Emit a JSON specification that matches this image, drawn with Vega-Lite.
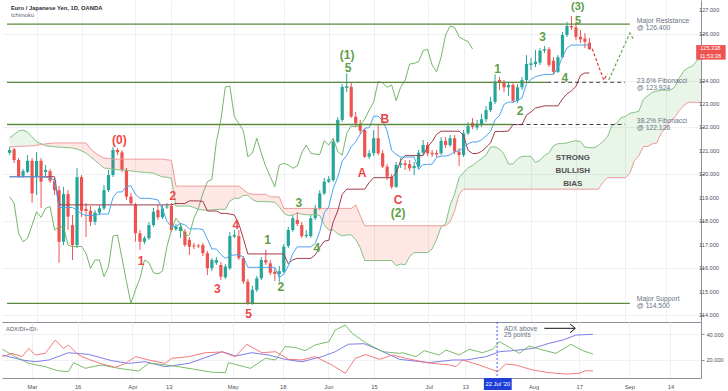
{
"$schema":"https://vega.github.io/schema/vega-lite/v6.json",
"padding":0,"background":"#ffffff","spacing":0,"bounds":"flush",
"config":{"view":{"stroke":null},"font":"Liberation Sans","axis":{"gridColor":"#eef0f4","domainColor":"#8c8f99","tickColor":"#8c8f99","labelColor":"#50535e","labelFont":"Liberation Sans","labelOverlap":false,"labelFlush":false}},
"datasets":{
"c":[
{"i":-6,"o":120.92,"h":121.17,"l":120.82,"c":121.04},{"i":-5,"o":121.07,"h":121.12,"l":120.48,"c":120.61},{"i":-4,"o":120.61,"h":120.70,"l":119.85,"c":119.93},{"i":-3,"o":119.94,"h":120.23,"l":119.85,"c":120.14},{"i":-2,"o":120.11,"h":120.82,"l":120.06,"c":120.58},{"i":-1,"o":120.58,"h":120.70,"l":118.79,"c":119.19},{"i":0,"o":119.90,"h":120.95,"l":119.12,"c":120.57},{"i":1,"o":120.58,"h":120.70,"l":118.57,"c":119.69},{"i":2,"o":120.10,"h":120.40,"l":119.93,"c":120.19},{"i":3,"o":120.14,"h":120.23,"l":119.63,"c":119.73},{"i":4,"o":119.73,"h":119.85,"l":119.12,"c":119.33},{"i":5,"o":119.33,"h":119.50,"l":116.23,"c":117.13},{"i":6,"o":117.13,"h":119.47,"l":116.99,"c":119.16},{"i":7,"o":119.16,"h":119.33,"l":117.63,"c":118.20},{"i":8,"o":117.84,"h":118.27,"l":116.35,"c":116.99},{"i":9,"o":116.99,"h":120.26,"l":116.86,"c":119.88},{"i":10,"o":119.88,"h":119.97,"l":118.18,"c":118.45},{"i":11,"o":118.53,"h":118.78,"l":117.33,"c":118.44},{"i":12,"o":118.45,"h":118.65,"l":117.80,"c":117.98},{"i":13,"o":117.98,"h":118.48,"l":117.84,"c":118.37},{"i":14,"o":118.37,"h":118.70,"l":118.27,"c":118.55},{"i":15,"o":118.55,"h":119.55,"l":118.48,"c":119.33},{"i":16,"o":119.33,"h":120.19,"l":119.25,"c":119.97},{"i":17,"o":119.97,"h":121.17,"l":119.89,"c":121.04},{"i":18,"o":121.04,"h":121.12,"l":120.82,"c":120.94},{"i":19,"o":120.94,"h":121.04,"l":120.10,"c":120.19},{"i":20,"o":120.19,"h":120.27,"l":118.91,"c":119.05},{"i":21,"o":119.05,"h":119.21,"l":118.70,"c":118.77},{"i":22,"o":118.70,"h":118.78,"l":117.13,"c":117.49},{"i":23,"o":117.49,"h":117.63,"l":116.78,"c":117.13},{"i":24,"o":117.13,"h":117.37,"l":117.03,"c":117.28},{"i":25,"o":117.28,"h":117.97,"l":117.21,"c":117.84},{"i":26,"o":117.84,"h":118.57,"l":117.76,"c":118.41},{"i":27,"o":118.48,"h":118.70,"l":118.06,"c":118.17},{"i":28,"o":118.17,"h":118.70,"l":118.10,"c":118.55},{"i":29,"o":118.59,"h":118.78,"l":118.53,"c":118.63},{"i":30,"o":118.65,"h":118.78,"l":117.55,"c":117.63},{"i":31,"o":117.66,"h":117.89,"l":117.59,"c":117.77},{"i":32,"o":117.59,"h":117.93,"l":117.29,"c":117.76},{"i":33,"o":117.56,"h":117.67,"l":116.91,"c":116.99},{"i":34,"o":117.21,"h":117.33,"l":116.57,"c":116.92},{"i":35,"o":116.97,"h":117.08,"l":116.82,"c":116.93},{"i":36,"o":116.97,"h":117.03,"l":116.86,"c":116.93},{"i":37,"o":116.99,"h":117.08,"l":116.52,"c":116.64},{"i":38,"o":116.64,"h":116.74,"l":115.71,"c":116.00},{"i":39,"o":116.00,"h":116.44,"l":115.88,"c":116.35},{"i":40,"o":116.23,"h":116.48,"l":116.14,"c":116.35},{"i":41,"o":116.14,"h":116.27,"l":115.50,"c":115.64},{"i":42,"o":115.62,"h":116.18,"l":115.54,"c":116.07},{"i":43,"o":116.00,"h":117.55,"l":115.93,"c":117.37},{"i":44,"o":117.35,"h":117.63,"l":117.29,"c":117.42},{"i":45,"o":117.37,"h":117.63,"l":116.35,"c":116.43},{"i":46,"o":116.43,"h":116.52,"l":115.33,"c":115.43},{"i":47,"o":115.43,"h":115.54,"l":114.44,"c":114.51},{"i":48,"o":114.51,"h":115.25,"l":114.44,"c":115.08},{"i":49,"o":115.08,"h":115.67,"l":114.99,"c":115.57},{"i":50,"o":115.57,"h":116.48,"l":115.50,"c":116.35},{"i":51,"o":116.35,"h":116.78,"l":116.14,"c":116.24},{"i":52,"o":116.21,"h":116.35,"l":115.71,"c":115.81},{"i":53,"o":115.85,"h":116.01,"l":115.46,"c":115.76},{"i":54,"o":115.76,"h":116.10,"l":115.42,"c":115.88},{"i":55,"o":115.85,"h":117.03,"l":115.80,"c":116.92},{"i":56,"o":116.95,"h":117.76,"l":116.86,"c":117.63},{"i":57,"o":117.63,"h":118.27,"l":117.55,"c":118.13},{"i":58,"o":118.06,"h":118.40,"l":117.80,"c":117.89},{"i":59,"o":117.84,"h":117.97,"l":117.29,"c":117.37},{"i":60,"o":117.37,"h":117.63,"l":117.29,"c":117.42},{"i":61,"o":117.37,"h":118.27,"l":117.29,"c":118.13},{"i":62,"o":118.13,"h":118.70,"l":118.06,"c":118.55},{"i":63,"o":118.55,"h":119.33,"l":118.48,"c":119.19},{"i":64,"o":119.19,"h":119.85,"l":119.12,"c":119.69},{"i":65,"o":119.69,"h":119.93,"l":119.63,"c":119.79},{"i":66,"o":119.76,"h":121.51,"l":119.68,"c":121.39},{"i":67,"o":121.39,"h":122.44,"l":121.34,"c":122.32},{"i":68,"o":122.32,"h":123.85,"l":122.23,"c":123.73},{"i":69,"o":123.69,"h":124.30,"l":123.51,"c":123.76},{"i":70,"o":123.73,"h":123.93,"l":122.40,"c":122.46},{"i":71,"o":122.46,"h":122.66,"l":122.06,"c":122.17},{"i":72,"o":122.15,"h":122.32,"l":121.72,"c":121.86},{"i":73,"o":121.89,"h":121.97,"l":120.70,"c":120.75},{"i":74,"o":120.75,"h":121.04,"l":120.65,"c":120.90},{"i":75,"o":120.90,"h":121.89,"l":120.78,"c":121.54},{"i":76,"o":121.54,"h":122.10,"l":120.82,"c":120.90},{"i":77,"o":120.90,"h":121.04,"l":120.27,"c":120.33},{"i":78,"o":120.33,"h":120.44,"l":119.76,"c":119.90},{"i":79,"o":119.90,"h":120.02,"l":119.38,"c":119.47},{"i":80,"o":119.47,"h":120.53,"l":119.42,"c":120.40},{"i":81,"o":120.40,"h":120.70,"l":120.27,"c":120.47},{"i":82,"o":120.47,"h":120.61,"l":120.19,"c":120.40},{"i":83,"o":120.44,"h":120.61,"l":120.14,"c":120.26},{"i":84,"o":120.27,"h":120.53,"l":119.97,"c":120.36},{"i":85,"o":120.33,"h":121.04,"l":120.23,"c":120.92},{"i":86,"o":120.92,"h":121.46,"l":120.82,"c":121.25},{"i":87,"o":121.25,"h":121.38,"l":120.78,"c":120.90},{"i":88,"o":120.92,"h":121.04,"l":120.74,"c":120.86},{"i":89,"o":120.91,"h":121.04,"l":120.74,"c":120.85},{"i":90,"o":120.90,"h":121.59,"l":120.82,"c":121.43},{"i":91,"o":121.43,"h":121.59,"l":121.12,"c":121.25},{"i":92,"o":121.25,"h":121.68,"l":121.17,"c":121.54},{"i":93,"o":121.54,"h":121.68,"l":120.86,"c":120.97},{"i":94,"o":120.97,"h":121.12,"l":120.36,"c":120.82},{"i":95,"o":120.82,"h":121.89,"l":120.74,"c":121.75},{"i":96,"o":121.75,"h":122.23,"l":121.68,"c":122.06},{"i":97,"o":122.20,"h":122.40,"l":121.93,"c":122.03},{"i":98,"o":122.00,"h":122.32,"l":121.89,"c":122.10},{"i":99,"o":122.10,"h":122.57,"l":122.02,"c":122.35},{"i":100,"o":122.35,"h":122.91,"l":122.23,"c":122.74},{"i":101,"o":122.74,"h":123.30,"l":122.66,"c":123.09},{"i":102,"o":123.09,"h":124.27,"l":123.00,"c":123.95},{"i":103,"o":124.02,"h":124.15,"l":123.59,"c":123.90},{"i":104,"o":123.90,"h":124.02,"l":123.51,"c":123.71},{"i":105,"o":123.71,"h":123.93,"l":123.34,"c":123.81},{"i":106,"o":123.81,"h":123.93,"l":123.04,"c":123.14},{"i":107,"o":123.14,"h":123.85,"l":123.04,"c":123.71},{"i":108,"o":123.71,"h":124.15,"l":123.59,"c":124.02},{"i":109,"o":124.02,"h":125.08,"l":123.93,"c":124.70},{"i":110,"o":124.66,"h":124.96,"l":124.45,"c":124.73},{"i":111,"o":124.70,"h":125.30,"l":124.57,"c":124.80},{"i":112,"o":124.76,"h":125.38,"l":124.66,"c":125.27},{"i":113,"o":125.27,"h":125.47,"l":125.17,"c":125.33},{"i":114,"o":125.33,"h":125.42,"l":124.57,"c":124.66},{"i":115,"o":124.84,"h":125.00,"l":124.27,"c":124.37},{"i":116,"o":124.37,"h":125.08,"l":124.32,"c":124.99},{"i":117,"o":124.99,"h":126.06,"l":124.96,"c":125.94},{"i":118,"o":125.94,"h":126.49,"l":125.85,"c":126.32},{"i":119,"o":126.32,"h":126.75,"l":126.15,"c":126.26},{"i":120,"o":126.26,"h":126.45,"l":125.72,"c":125.86},{"i":121,"o":125.86,"h":126.15,"l":125.59,"c":125.75},{"i":122,"o":125.79,"h":126.02,"l":125.38,"c":125.65},{"i":123,"o":125.61,"h":125.81,"l":125.30,"c":125.34}
],
"ichi":[
{"i":-6,"t":119.9,"k":119.9},{"i":-5,"t":119.9,"k":119.9},{"i":-4,"t":119.9,"k":119.9},{"i":-3,"t":119.9,"k":119.9},{"i":-2,"t":119.9,"k":119.9},{"i":-1,"t":119.9,"k":119.9},{"i":0,"t":119.9,"k":119.9},{"i":1,"t":119.9,"k":119.9},{"i":2,"t":119.87,"k":119.9},{"i":3,"t":119.85,"k":119.9},{"i":4,"t":119.76,"k":119.9},{"i":5,"t":118.59,"k":118.7},{"i":6,"t":118.59,"k":118.7},{"i":7,"t":118.59,"k":118.7},{"i":8,"t":118.59,"k":118.7},{"i":9,"t":118.47,"k":118.7},{"i":10,"t":118.32,"k":118.7},{"i":11,"t":118.25,"k":118.7},{"i":12,"t":118.25,"k":118.7},{"i":13,"t":118.25,"k":118.7},{"i":14,"t":118.31,"k":118.7},{"i":15,"t":118.31,"k":118.7},{"i":16,"t":118.31,"k":118.7},{"i":17,"t":119.02,"k":118.7},{"i":18,"t":119.25,"k":118.7},{"i":19,"t":119.25,"k":118.7},{"i":20,"t":119.49,"k":118.7},{"i":21,"t":119.51,"k":118.7},{"i":22,"t":119.15,"k":118.7},{"i":23,"t":118.98,"k":118.7},{"i":24,"t":118.98,"k":118.7},{"i":25,"t":118.98,"k":118.7},{"i":26,"t":118.95,"k":118.7},{"i":27,"t":118.91,"k":118.7},{"i":28,"t":118.53,"k":118.7},{"i":29,"t":118.0,"k":118.7},{"i":30,"t":117.78,"k":118.7},{"i":31,"t":117.78,"k":118.76},{"i":32,"t":117.91,"k":118.76},{"i":33,"t":117.85,"k":118.76},{"i":34,"t":117.68,"k":118.87},{"i":35,"t":117.68,"k":118.87},{"i":36,"t":117.68,"k":118.87},{"i":37,"t":117.65,"k":118.85},{"i":38,"t":117.25,"k":118.44},{"i":39,"t":116.82,"k":118.44},{"i":40,"t":116.82,"k":118.44},{"i":41,"t":116.59,"k":118.34},{"i":42,"t":116.42,"k":118.34},{"i":43,"t":116.53,"k":118.31},{"i":44,"t":116.57,"k":118.27},{"i":45,"t":116.57,"k":117.89},{"i":46,"t":116.48,"k":117.27},{"i":47,"t":116.04,"k":116.61},{"i":48,"t":116.04,"k":116.61},{"i":49,"t":116.04,"k":116.61},{"i":50,"t":116.04,"k":116.61},{"i":51,"t":116.04,"k":116.61},{"i":52,"t":116.04,"k":116.61},{"i":53,"t":116.04,"k":116.61},{"i":54,"t":115.61,"k":116.61},{"i":55,"t":115.74,"k":116.61},{"i":56,"t":116.1,"k":116.19},{"i":57,"t":116.63,"k":116.36},{"i":58,"t":116.91,"k":116.42},{"i":59,"t":116.91,"k":116.42},{"i":60,"t":116.91,"k":116.42},{"i":61,"t":116.91,"k":116.42},{"i":62,"t":117.06,"k":116.57},{"i":63,"t":117.57,"k":116.89},{"i":64,"t":118.36,"k":117.15},{"i":65,"t":118.61,"k":117.19},{"i":66,"t":119.4,"k":117.98},{"i":67,"t":119.87,"k":118.44},{"i":68,"t":120.57,"k":119.15},{"i":69,"t":120.8,"k":119.37},{"i":70,"t":121.18,"k":119.37},{"i":71,"t":121.39,"k":119.37},{"i":72,"t":121.71,"k":119.37},{"i":73,"t":121.97,"k":119.37},{"i":74,"t":121.99,"k":119.65},{"i":75,"t":122.48,"k":119.86},{"i":76,"t":122.48,"k":119.86},{"i":77,"t":122.29,"k":119.86},{"i":78,"t":121.85,"k":119.86},{"i":79,"t":121.02,"k":119.86},{"i":80,"t":120.85,"k":120.05},{"i":81,"t":120.74,"k":120.58},{"i":82,"t":120.74,"k":120.8},{"i":83,"t":120.74,"k":120.8},{"i":84,"t":120.74,"k":120.8},{"i":85,"t":120.21,"k":120.8},{"i":86,"t":120.42,"k":120.8},{"i":87,"t":120.42,"k":121.18},{"i":88,"t":120.44,"k":121.39},{"i":89,"t":120.72,"k":121.71},{"i":90,"t":120.78,"k":121.84},{"i":91,"t":120.78,"k":121.84},{"i":92,"t":120.83,"k":121.84},{"i":93,"t":120.96,"k":121.84},{"i":94,"t":121.02,"k":121.84},{"i":95,"t":121.13,"k":121.66},{"i":96,"t":121.3,"k":121.02},{"i":97,"t":121.38,"k":120.89},{"i":98,"t":121.38,"k":120.89},{"i":99,"t":121.47,"k":120.98},{"i":100,"t":121.64,"k":121.15},{"i":101,"t":121.83,"k":121.34},{"i":102,"t":122.32,"k":121.83},{"i":103,"t":122.51,"k":121.83},{"i":104,"t":122.98,"k":121.83},{"i":105,"t":123.08,"k":121.85},{"i":106,"t":123.08,"k":122.12},{"i":107,"t":123.15,"k":122.12},{"i":108,"t":123.25,"k":122.12},{"i":109,"t":123.87,"k":122.53},{"i":110,"t":124.04,"k":122.66},{"i":111,"t":124.17,"k":122.83},{"i":112,"t":124.21,"k":122.87},{"i":113,"t":124.26,"k":122.92},{"i":114,"t":124.26,"k":122.92},{"i":115,"t":124.26,"k":122.92},{"i":116,"t":124.53,"k":122.92},{"i":117,"t":125.0,"k":123.21},{"i":118,"t":125.38,"k":123.43},{"i":119,"t":125.51,"k":123.56},{"i":120,"t":125.51,"k":123.75},{"i":121,"t":125.51,"k":124.22},{"i":122,"t":125.51,"k":124.32},{"i":123,"t":125.51,"k":124.32}
],
"cloud":[
{"i":-6,"a":121.55,"b":121.17,"s":"g1"},{"i":-5,"a":121.7,"b":121.18,"s":"g1"},{"i":-4,"a":121.85,"b":121.19,"s":"g1"},{"i":-3,"a":121.89,"b":121.2,"s":"g1"},{"i":-2,"a":121.8,"b":121.21,"s":"g1"},{"i":-1,"a":121.6,"b":121.22,"s":"g1"},{"i":0,"a":121.4,"b":121.24,"s":"g1"},{"i":1,"a":121.3,"b":121.27,"s":"g1"},{"i":1.3,"a":121.28,"b":121.28,"s":"g1"},
{"i":1.3,"a":121.28,"b":121.28,"s":"r"},{"i":2,"a":121.22,"b":121.3,"s":"r"},{"i":3,"a":121.2,"b":121.32,"s":"r"},{"i":4,"a":121.18,"b":121.34,"s":"r"},{"i":5,"a":121.16,"b":121.34,"s":"r"},{"i":6,"a":121.15,"b":121.34,"s":"r"},{"i":7,"a":121.14,"b":121.34,"s":"r"},{"i":8,"a":121.12,"b":121.34,"s":"r"},{"i":9,"a":121.08,"b":121.34,"s":"r"},{"i":10,"a":121.0,"b":121.34,"s":"r"},{"i":11,"a":120.91,"b":121.34,"s":"r"},{"i":12,"a":120.75,"b":121.1,"s":"r"},{"i":13,"a":120.6,"b":120.91,"s":"r"},{"i":14,"a":120.43,"b":120.8,"s":"r"},{"i":15,"a":120.27,"b":120.7,"s":"r"},{"i":16,"a":120.25,"b":120.68,"s":"r"},{"i":17,"a":120.22,"b":120.66,"s":"r"},{"i":18,"a":120.2,"b":120.65,"s":"r"},{"i":19,"a":120.19,"b":120.65,"s":"r"},{"i":20,"a":120.17,"b":120.65,"s":"r"},{"i":21,"a":120.15,"b":120.65,"s":"r"},{"i":22,"a":120.12,"b":120.65,"s":"r"},{"i":23,"a":120.1,"b":120.65,"s":"r"},{"i":24,"a":120.08,"b":120.65,"s":"r"},{"i":25,"a":120.07,"b":120.65,"s":"r"},{"i":26,"a":120.06,"b":120.65,"s":"r"},{"i":27,"a":119.97,"b":120.65,"s":"r"},{"i":28,"a":119.89,"b":120.65,"s":"r"},{"i":29,"a":119.88,"b":120.62,"s":"r"},{"i":30,"a":119.83,"b":120.6,"s":"r"},{"i":31,"a":118.65,"b":119.5,"s":"r"},{"i":32,"a":118.65,"b":119.5,"s":"r"},{"i":33,"a":118.65,"b":119.5,"s":"r"},{"i":34,"a":118.65,"b":119.5,"s":"r"},{"i":35,"a":118.59,"b":119.5,"s":"r"},{"i":36,"a":118.51,"b":119.5,"s":"r"},{"i":37,"a":118.48,"b":119.5,"s":"r"},{"i":38,"a":118.48,"b":119.5,"s":"r"},{"i":39,"a":118.48,"b":119.5,"s":"r"},{"i":40,"a":118.51,"b":119.5,"s":"r"},{"i":41,"a":118.51,"b":119.5,"s":"r"},{"i":42,"a":118.51,"b":119.5,"s":"r"},{"i":43,"a":118.86,"b":119.5,"s":"r"},{"i":44,"a":118.98,"b":119.5,"s":"r"},{"i":45,"a":118.98,"b":119.5,"s":"r"},{"i":46,"a":119.1,"b":119.35,"s":"r"},{"i":47,"a":119.11,"b":119.2,"s":"r"},{"i":48,"a":118.93,"b":119.15,"s":"r"},{"i":49,"a":118.84,"b":119.15,"s":"r"},{"i":50,"a":118.84,"b":119.15,"s":"r"},{"i":51,"a":118.84,"b":119.15,"s":"r"},{"i":52,"a":118.83,"b":119.04,"s":"r"},{"i":53,"a":118.81,"b":119.04,"s":"r"},{"i":54,"a":118.62,"b":119.04,"s":"r"},{"i":55,"a":118.35,"b":118.55,"s":"r"},{"i":56,"a":118.24,"b":118.55,"s":"r"},{"i":57,"a":118.27,"b":118.55,"s":"r"},{"i":58,"a":118.34,"b":118.55,"s":"r"},{"i":59,"a":118.31,"b":118.55,"s":"r"},{"i":60,"a":118.28,"b":118.55,"s":"r"},{"i":61,"a":118.28,"b":118.55,"s":"r"},{"i":62,"a":118.28,"b":118.55,"s":"r"},{"i":63,"a":118.25,"b":118.55,"s":"r"},{"i":64,"a":117.85,"b":118.55,"s":"r"},{"i":65,"a":117.63,"b":118.55,"s":"r"},{"i":66,"a":117.63,"b":118.55,"s":"r"},{"i":67,"a":117.47,"b":118.55,"s":"r"},{"i":68,"a":117.38,"b":118.55,"s":"r"},{"i":69,"a":117.42,"b":118.55,"s":"r"},{"i":70,"a":117.42,"b":118.55,"s":"r"},{"i":71,"a":117.23,"b":118.7,"s":"r"},{"i":72,"a":116.88,"b":118.25,"s":"r"},{"i":73,"a":116.33,"b":117.81,"s":"r"},{"i":74,"a":116.33,"b":117.81,"s":"r"},{"i":75,"a":116.33,"b":117.81,"s":"r"},{"i":76,"a":116.33,"b":117.81,"s":"r"},{"i":77,"a":116.33,"b":117.81,"s":"r"},{"i":78,"a":116.33,"b":117.81,"s":"r"},{"i":79,"a":116.33,"b":117.81,"s":"r"},{"i":80,"a":116.11,"b":117.81,"s":"r"},{"i":81,"a":116.18,"b":117.81,"s":"r"},{"i":82,"a":116.15,"b":117.81,"s":"r"},{"i":83,"a":116.5,"b":117.81,"s":"r"},{"i":84,"a":116.67,"b":117.81,"s":"r"},{"i":85,"a":116.67,"b":117.81,"s":"r"},{"i":86,"a":116.67,"b":117.81,"s":"r"},{"i":87,"a":116.67,"b":117.81,"s":"r"},{"i":88,"a":116.82,"b":117.81,"s":"r"},{"i":89,"a":117.23,"b":117.81,"s":"r"},{"i":90,"a":117.76,"b":117.81,"s":"r"},{"i":90.36,"a":117.81,"b":117.81,"s":"r"},
{"i":90.36,"a":117.81,"b":117.81,"s":"g2"},{"i":91,"a":117.9,"b":117.81,"s":"g2"},{"i":92,"a":118.69,"b":117.98,"s":"g2"},{"i":93,"a":119.16,"b":118.44,"s":"g2"},{"i":94,"a":119.86,"b":119.15,"s":"g2"},{"i":95,"a":120.09,"b":119.37,"s":"g2"},{"i":96,"a":120.28,"b":119.37,"s":"g2"},{"i":97,"a":120.38,"b":119.37,"s":"g2"},{"i":98,"a":120.54,"b":119.37,"s":"g2"},{"i":99,"a":120.67,"b":119.37,"s":"g2"},{"i":100,"a":120.82,"b":119.37,"s":"g2"},{"i":101,"a":121.17,"b":119.37,"s":"g2"},{"i":102,"a":121.17,"b":119.37,"s":"g2"},{"i":103,"a":121.08,"b":119.37,"s":"g2"},{"i":104,"a":120.86,"b":119.37,"s":"g2"},{"i":105,"a":120.44,"b":119.37,"s":"g2"},{"i":106,"a":120.45,"b":119.37,"s":"g2"},{"i":107,"a":120.66,"b":119.37,"s":"g2"},{"i":108,"a":120.77,"b":119.37,"s":"g2"},{"i":109,"a":120.77,"b":119.37,"s":"g2"},{"i":110,"a":120.77,"b":119.37,"s":"g2"},{"i":111,"a":120.51,"b":119.37,"s":"g2"},{"i":112,"a":120.61,"b":119.37,"s":"g2"},{"i":113,"a":120.8,"b":119.37,"s":"g2"},{"i":114,"a":120.92,"b":119.37,"s":"g2"},{"i":115,"a":121.22,"b":119.37,"s":"g2"},{"i":116,"a":121.31,"b":119.37,"s":"g2"},{"i":117,"a":121.31,"b":119.37,"s":"g2"},{"i":118,"a":121.34,"b":119.37,"s":"g2"},{"i":119,"a":121.4,"b":119.37,"s":"g2"},{"i":120,"a":121.43,"b":119.37,"s":"g2"},{"i":121,"a":121.4,"b":119.37,"s":"g2"},{"i":122,"a":121.16,"b":119.37,"s":"g2"},{"i":123,"a":121.14,"b":119.37,"s":"g2"},{"i":124,"a":121.14,"b":119.37,"s":"g2"},{"i":125,"a":121.23,"b":119.37,"s":"g2"},{"i":126,"a":121.4,"b":119.65,"s":"g2"},{"i":127,"a":121.59,"b":119.86,"s":"g2"},{"i":128,"a":122.08,"b":119.86,"s":"g2"},{"i":129,"a":122.17,"b":119.86,"s":"g2"},{"i":130,"a":122.41,"b":119.86,"s":"g2"},{"i":131,"a":122.47,"b":119.86,"s":"g2"},{"i":132,"a":122.6,"b":120.05,"s":"g2"},{"i":133,"a":122.64,"b":120.58,"s":"g2"},{"i":134,"a":122.69,"b":120.8,"s":"g2"},{"i":135,"a":123.2,"b":121.19,"s":"g2"},{"i":136,"a":123.35,"b":121.19,"s":"g2"},{"i":137,"a":123.5,"b":121.3,"s":"g2"},{"i":138,"a":123.54,"b":121.34,"s":"g2"},{"i":139,"a":123.59,"b":121.77,"s":"g2"},{"i":140,"a":123.59,"b":121.98,"s":"g2"},{"i":141,"a":123.59,"b":122.3,"s":"g2"},{"i":142,"a":123.73,"b":122.43,"s":"g2"},{"i":143,"a":124.11,"b":122.72,"s":"g2"},{"i":144,"a":124.41,"b":122.94,"s":"g2"},{"i":145,"a":124.54,"b":123.07,"s":"g2"},{"i":146,"a":124.63,"b":123.07,"s":"g2"},{"i":147,"a":124.87,"b":123.07,"s":"g2"},{"i":148,"a":124.92,"b":123.07,"s":"g2"},{"i":149,"a":124.92,"b":123.07,"s":"g2"}
],
"chik":[
{"i":-6,"v":119.05},{"i":-5,"v":118.77},{"i":-4,"v":117.49},{"i":-3,"v":117.13},{"i":-2,"v":117.28},{"i":-1,"v":117.84},{"i":0,"v":118.41},{"i":1,"v":118.17},{"i":2,"v":118.55},{"i":3,"v":118.63},{"i":4,"v":117.63},{"i":5,"v":117.77},{"i":6,"v":117.76},{"i":7,"v":116.99},{"i":8,"v":116.92},{"i":9,"v":116.93},{"i":10,"v":116.93},{"i":11,"v":116.64},{"i":12,"v":116.0},{"i":13,"v":116.35},{"i":14,"v":116.35},{"i":15,"v":115.64},{"i":16,"v":116.07},{"i":17,"v":117.37},{"i":18,"v":117.42},{"i":19,"v":116.43},{"i":20,"v":115.43},{"i":21,"v":114.51},{"i":22,"v":115.08},{"i":23,"v":115.57},{"i":24,"v":116.35},{"i":25,"v":116.24},{"i":26,"v":115.81},{"i":27,"v":115.76},{"i":28,"v":115.88},{"i":29,"v":116.92},{"i":30,"v":117.63},{"i":31,"v":118.13},{"i":32,"v":117.89},{"i":33,"v":117.37},{"i":34,"v":117.42},{"i":35,"v":118.13},{"i":36,"v":118.55},{"i":37,"v":119.19},{"i":38,"v":119.69},{"i":39,"v":119.79},{"i":40,"v":121.39},{"i":41,"v":122.32},{"i":42,"v":123.73},{"i":43,"v":123.76},{"i":44,"v":122.46},{"i":45,"v":122.17},{"i":46,"v":121.86},{"i":47,"v":120.75},{"i":48,"v":120.9},{"i":49,"v":121.54},{"i":50,"v":120.9},{"i":51,"v":120.33},{"i":52,"v":119.9},{"i":53,"v":119.47},{"i":54,"v":120.4},{"i":55,"v":120.47},{"i":56,"v":120.4},{"i":57,"v":120.26},{"i":58,"v":120.36},{"i":59,"v":120.92},{"i":60,"v":121.25},{"i":61,"v":120.9},{"i":62,"v":120.86},{"i":63,"v":120.85},{"i":64,"v":121.43},{"i":65,"v":121.25},{"i":66,"v":121.54},{"i":67,"v":120.97},{"i":68,"v":120.82},{"i":69,"v":121.75},{"i":70,"v":122.06},{"i":71,"v":122.03},{"i":72,"v":122.1},{"i":73,"v":122.35},{"i":74,"v":122.74},{"i":75,"v":123.09},{"i":76,"v":123.95},{"i":77,"v":123.9},{"i":78,"v":123.71},{"i":79,"v":123.81},{"i":80,"v":123.14},{"i":81,"v":123.71},{"i":82,"v":124.02},{"i":83,"v":124.7},{"i":84,"v":124.73},{"i":85,"v":124.8},{"i":86,"v":125.27},{"i":87,"v":125.33},{"i":88,"v":124.66},{"i":89,"v":124.37},{"i":90,"v":124.99},{"i":91,"v":125.94},{"i":92,"v":126.32},{"i":93,"v":126.26},{"i":94,"v":125.86},{"i":95,"v":125.75},{"i":96,"v":125.65},{"i":97,"v":125.34}
],
"hl":[
{"p":126.4,"i0":-6.58,"i1":132.0,"g":"s"},{"p":123.924,"i0":-6.58,"i1":113.6,"g":"s"},{"p":122.126,"i0":-6.58,"i1":105.9,"g":"s"},{"p":114.5,"i0":-6.58,"i1":132.0,"g":"s"},
{"p":123.924,"i0":113.6,"i1":130.9,"g":"d"},{"p":122.126,"i0":105.9,"i1":130.9,"g":"d"}
],
"pj":[
{"g":"r","k":0,"i":123.6,"p":125.35},{"g":"r","k":1,"i":126.2,"p":124.02},{"g":"r","k":2,"i":127.0,"p":124.28},
{"g":"g","k":0,"i":127.3,"p":124.02},{"g":"g","k":1,"i":132.0,"p":126.02},{"g":"g","k":2,"i":132.9,"p":125.72}
],
"yl":[{"i":147.4,"p":114},{"i":147.4,"p":115},{"i":147.4,"p":116},{"i":147.4,"p":117},{"i":147.4,"p":118},{"i":147.4,"p":119},{"i":147.4,"p":120},{"i":147.4,"p":121},{"i":147.4,"p":122},{"i":147.4,"p":123},{"i":147.4,"p":124},{"i":147.4,"p":126},{"i":147.4,"p":127}],
"txt":[
{"g":"h","i":-5.7,"p":127.11,"t":"Euro / Japanese Yen, 1D, OANDA"},
{"g":"s","i":-5.7,"p":126.77,"t":"Ichimoku"},
{"g":"r","i":18.42,"p":121.46,"t":"(0)"},{"g":"r","i":23.25,"p":116.31,"t":"1"},{"g":"r","i":30.33,"p":119.08,"t":"2"},{"g":"r","i":40.2,"p":115.11,"t":"3"},{"g":"r","i":44.36,"p":117.83,"t":"4"},{"g":"r","i":47.15,"p":114.05,"t":"5"},{"g":"r","i":72.43,"p":120.04,"t":"A"},{"g":"r","i":77.48,"p":122.37,"t":"B"},{"g":"r","i":80.42,"p":118.91,"t":"C"},
{"g":"gr","i":69.08,"p":125.1,"t":"(1)"},{"g":"gr","i":69.3,"p":124.52,"t":"5"},{"g":"gr","i":51.38,"p":117.2,"t":"1"},{"g":"gr","i":54.32,"p":115.19,"t":"2"},{"g":"gr","i":58.33,"p":118.79,"t":"3"},{"g":"gr","i":62.35,"p":116.88,"t":"4"},{"g":"gr","i":80.42,"p":118.37,"t":"(2)"},{"g":"gr","i":102.57,"p":124.49,"t":"1"},{"g":"gr","i":107.6,"p":122.7,"t":"2"},{"g":"gr","i":112.57,"p":125.84,"t":"3"},{"g":"gr","i":117.54,"p":124.09,"t":"4"},{"g":"gr2","i":120.4,"p":127.12,"t":"(3)"},{"g":"gr2","i":120.46,"p":126.52,"t":"5"},
{"g":"a","i":133.55,"p":126.55,"t":"Major Resistance"},{"g":"a","i":133.55,"p":126.23,"t":"@ 126.400"},{"g":"a","i":133.55,"p":124.0,"t":"23.6% Fibonacci"},{"g":"a","i":133.55,"p":123.68,"t":"@ 123.924"},{"g":"a","i":133.55,"p":122.29,"t":"38.2% Fibonacci"},{"g":"a","i":133.55,"p":121.99,"t":"@ 122.126"},{"g":"a","i":133.55,"p":114.69,"t":"Major Support"},{"g":"a","i":133.55,"p":114.39,"t":"@ 114.500"},
{"g":"b","i":119.3,"p":120.7,"t":"STRONG"},{"g":"b","i":119.3,"p":120.14,"t":"BULLISH"},{"g":"b","i":119.3,"p":119.59,"t":"BIAS"},
{"g":"pt","i":149.9,"p":125.37,"t":"125.338"},{"g":"pt","i":149.9,"p":125.05,"t":"11:53:38"}
],
"tag":[{"i0":146.75,"i1":153.3,"p0":125.51,"p1":124.89}],
"adx":[
{"s":"ADX","i":-6.5,"v":23.7},{"s":"ADX","i":-2.2,"v":19.8},{"s":"ADX","i":0.7,"v":18.4},{"s":"ADX","i":3.7,"v":19.8},{"s":"ADX","i":8,"v":25.5},{"s":"ADX","i":12.4,"v":24.2},{"s":"ADX","i":17.5,"v":19.2},{"s":"ADX","i":21.2,"v":17.1},{"s":"ADX","i":24.8,"v":18.4},{"s":"ADX","i":29.2,"v":14.5},{"s":"ADX","i":34.4,"v":17.1},{"s":"ADX","i":41.7,"v":26.3},{"s":"ADX","i":44.6,"v":22.9},{"s":"ADX","i":48.2,"v":25.5},{"s":"ADX","i":51.9,"v":23.7},{"s":"ADX","i":55.5,"v":20.3},{"s":"ADX","i":59.2,"v":18.4},{"s":"ADX","i":63.6,"v":22.4},{"s":"ADX","i":66.5,"v":26.3},{"s":"ADX","i":69.4,"v":32.2},{"s":"ADX","i":72.8,"v":32.6},{"s":"ADX","i":76.2,"v":27.6},{"s":"ADX","i":80.6,"v":20.3},{"s":"ADX","i":87.1,"v":17.7},{"s":"ADX","i":92.3,"v":19.8},{"s":"ADX","i":95.2,"v":19.8},{"s":"ADX","i":99.6,"v":22.4},{"s":"ADX","i":102.5,"v":26.3},{"s":"ADX","i":105.4,"v":27.1},{"s":"ADX","i":109.8,"v":28.9},{"s":"ADX","i":113.4,"v":32.9},{"s":"ADX","i":116.4,"v":35.5},{"s":"ADX","i":119.3,"v":39.4},{"s":"ADX","i":123,"v":40.0},
{"s":"DI+","i":-6.5,"v":28.2},{"s":"DI+","i":-3.7,"v":22.4},{"s":"DI+","i":-0.7,"v":17.1},{"s":"DI+","i":2.9,"v":14.5},{"s":"DI+","i":5.5,"v":11.4},{"s":"DI+","i":8,"v":10.6},{"s":"DI+","i":9.1,"v":17.7},{"s":"DI+","i":11.7,"v":13.2},{"s":"DI+","i":13.9,"v":15.0},{"s":"DI+","i":15.4,"v":15.8},{"s":"DI+","i":19,"v":13.2},{"s":"DI+","i":23.4,"v":11.1},{"s":"DI+","i":25.6,"v":17.1},{"s":"DI+","i":27.8,"v":16.6},{"s":"DI+","i":32.2,"v":14.5},{"s":"DI+","i":39.5,"v":10.1},{"s":"DI+","i":42.4,"v":9.8},{"s":"DI+","i":43.1,"v":17.7},{"s":"DI+","i":47.9,"v":13.2},{"s":"DI+","i":51.2,"v":21.1},{"s":"DI+","i":53.4,"v":19.8},{"s":"DI+","i":55.5,"v":30.3},{"s":"DI+","i":57.7,"v":29.7},{"s":"DI+","i":59.9,"v":27.1},{"s":"DI+","i":62.1,"v":31.6},{"s":"DI+","i":65.1,"v":34.2},{"s":"DI+","i":66.5,"v":43.4},{"s":"DI+","i":68.7,"v":47.3},{"s":"DI+","i":70.2,"v":40.8},{"s":"DI+","i":73.1,"v":33.5},{"s":"DI+","i":76.9,"v":26.3},{"s":"DI+","i":80.6,"v":25.0},{"s":"DI+","i":81.3,"v":25.5},{"s":"DI+","i":84.2,"v":22.4},{"s":"DI+","i":86,"v":27.1},{"s":"DI+","i":89.3,"v":23.7},{"s":"DI+","i":90.8,"v":27.6},{"s":"DI+","i":93.7,"v":23.7},{"s":"DI+","i":95.9,"v":28.2},{"s":"DI+","i":98.8,"v":25.5},{"s":"DI+","i":101,"v":28.2},{"s":"DI+","i":102.5,"v":34.2},{"s":"DI+","i":104.7,"v":29.7},{"s":"DI+","i":106.9,"v":25.0},{"s":"DI+","i":109,"v":30.8},{"s":"DI+","i":112,"v":27.6},{"s":"DI+","i":114.9,"v":25.0},{"s":"DI+","i":118.2,"v":32.1},{"s":"DI+","i":120.8,"v":27.1},{"s":"DI+","i":123,"v":24.5},
{"s":"DI-","i":-6.5,"v":22.4},{"s":"DI-","i":-4.4,"v":25.0},{"s":"DI-","i":-2.2,"v":22.4},{"s":"DI-","i":-0.7,"v":28.9},{"s":"DI-","i":0.7,"v":23.7},{"s":"DI-","i":2.9,"v":25.0},{"s":"DI-","i":5.1,"v":35.5},{"s":"DI-","i":6.9,"v":28.9},{"s":"DI-","i":8,"v":31.6},{"s":"DI-","i":10.2,"v":23.7},{"s":"DI-","i":12.4,"v":20.3},{"s":"DI-","i":15.4,"v":16.6},{"s":"DI-","i":18.3,"v":14.0},{"s":"DI-","i":20.5,"v":17.1},{"s":"DI-","i":22.7,"v":22.4},{"s":"DI-","i":25.6,"v":19.8},{"s":"DI-","i":29.2,"v":17.1},{"s":"DI-","i":30.7,"v":21.1},{"s":"DI-","i":34.4,"v":22.4},{"s":"DI-","i":38,"v":25.5},{"s":"DI-","i":41.7,"v":26.1},{"s":"DI-","i":44.6,"v":22.4},{"s":"DI-","i":47.1,"v":32.1},{"s":"DI-","i":50.4,"v":25.5},{"s":"DI-","i":53.4,"v":26.3},{"s":"DI-","i":56.3,"v":20.3},{"s":"DI-","i":59.2,"v":19.8},{"s":"DI-","i":62.1,"v":22.4},{"s":"DI-","i":65.8,"v":15.8},{"s":"DI-","i":68.7,"v":9.3},{"s":"DI-","i":70.9,"v":21.1},{"s":"DI-","i":73.2,"v":24.0},{"s":"DI-","i":76.2,"v":20.3},{"s":"DI-","i":79.1,"v":23.7},{"s":"DI-","i":82,"v":21.1},{"s":"DI-","i":86.4,"v":17.7},{"s":"DI-","i":91.5,"v":15.8},{"s":"DI-","i":93,"v":14.5},{"s":"DI-","i":94.4,"v":19.8},{"s":"DI-","i":98.1,"v":15.8},{"s":"DI-","i":102.1,"v":10.6},{"s":"DI-","i":103.9,"v":16.6},{"s":"DI-","i":106.1,"v":15.8},{"s":"DI-","i":109.8,"v":11.9},{"s":"DI-","i":113.4,"v":9.8},{"s":"DI-","i":117.1,"v":8.7},{"s":"DI-","i":120,"v":9.3},{"s":"DI-","i":121.5,"v":11.4},{"s":"DI-","i":123,"v":11.1}
],
"arr":[
{"g":"s","k":0,"i":112.35,"v":44.72},{"g":"s","k":1,"i":119.1,"v":44.72},
{"g":"h","k":0,"i":118.0,"v":48.1},{"g":"h","k":1,"i":119.14,"v":44.72},{"g":"h","k":2,"i":118.0,"v":41.26}
],
"atx":[
{"g":"n","i":-5.7,"v":44.2,"t":"ADX/DI+/DI-"},
{"g":"a","i":103.5,"v":44.2,"t":"ADX above"},{"g":"a","i":103.5,"v":39.1,"t":"25 points"},
{"g":"d","i":102.15,"v":0.63,"t":"22 Jul '20"}
],
"vl":[{"i":102,"v0":49.69,"v1":5.59}],
"box":[{"i0":99.1,"i1":105.2,"v0":5.59,"v1":-3.86}]
},
"vconcat":[
{"width":699,"height":322,
"layer":[
{"data":{"name":"c"},"mark":{"type":"rule","strokeWidth":1},
"encoding":{
"x":{"field":"i","type":"quantitative","title":null,"scale":{"domain":[-6.58,146.71],"nice":false,"zero":false},"axis":{"orient":"bottom","values":[0,10,22,30,44,55,65,75,87,95,110,120,131,140],"labels":false,"ticks":false,"domain":true,"grid":true,"title":null}},
"y":{"field":"l","type":"quantitative","title":null,"scale":{"domain":[113.71,127.43],"nice":false,"zero":false},"axis":{"orient":"right","values":[114,115,116,117,118,119,120,121,122,123,124,125,126,127],"labels":false,"tickSize":3,"grid":true,"domain":true,"title":null}},
"y2":{"field":"h"},
"color":{"condition":{"test":"datum.c < datum.o","value":"#ef5350"},"value":"#26a69a"}}},
{"data":{"name":"c"},"mark":{"type":"bar","size":3.2},
"encoding":{
"x":{"field":"i","type":"quantitative","title":null,"scale":{"domain":[-6.58,146.71],"nice":false,"zero":false}},
"y":{"field":"o","type":"quantitative","title":null,"scale":{"domain":[113.71,127.43],"nice":false,"zero":false}},
"y2":{"field":"c"},
"color":{"condition":{"test":"datum.c < datum.o","value":"#ef5350"},"value":"#26a69a"}}},
{"data":{"name":"cloud"},"transform":[{"filter":"datum.s != 'r'"}],"mark":{"type":"area","color":"#4caf50","opacity":0.13,"clip":true},
"encoding":{
"x":{"field":"i","type":"quantitative","title":null,"scale":{"domain":[-6.58,146.71],"nice":false,"zero":false}},
"y":{"field":"a","type":"quantitative","title":null,"scale":{"domain":[113.71,127.43],"nice":false,"zero":false}},
"y2":{"field":"b"},"detail":{"field":"s"}}},
{"data":{"name":"cloud"},"transform":[{"filter":"datum.s == 'r'"}],"mark":{"type":"area","color":"#f44336","opacity":0.13,"clip":true},
"encoding":{
"x":{"field":"i","type":"quantitative","title":null,"scale":{"domain":[-6.58,146.71],"nice":false,"zero":false}},
"y":{"field":"a","type":"quantitative","title":null,"scale":{"domain":[113.71,127.43],"nice":false,"zero":false}},
"y2":{"field":"b"}}},
{"data":{"name":"cloud"},"mark":{"type":"line","color":"#86c286","strokeWidth":1,"clip":true},
"encoding":{
"x":{"field":"i","type":"quantitative","title":null,"scale":{"domain":[-6.58,146.71],"nice":false,"zero":false}},
"y":{"field":"a","type":"quantitative","title":null,"scale":{"domain":[113.71,127.43],"nice":false,"zero":false}}}},
{"data":{"name":"cloud"},"mark":{"type":"line","color":"#ef9a9a","strokeWidth":1,"clip":true},
"encoding":{
"x":{"field":"i","type":"quantitative","title":null,"scale":{"domain":[-6.58,146.71],"nice":false,"zero":false}},
"y":{"field":"b","type":"quantitative","title":null,"scale":{"domain":[113.71,127.43],"nice":false,"zero":false}}}},
{"data":{"name":"chik"},"mark":{"type":"line","color":"#66ad5a","strokeWidth":0.9},
"encoding":{
"x":{"field":"i","type":"quantitative","title":null,"scale":{"domain":[-6.58,146.71],"nice":false,"zero":false}},
"y":{"field":"v","type":"quantitative","title":null,"scale":{"domain":[113.71,127.43],"nice":false,"zero":false}}}},
{"data":{"name":"ichi"},"mark":{"type":"line","color":"#a33a48","strokeWidth":1},
"encoding":{
"x":{"field":"i","type":"quantitative","title":null,"scale":{"domain":[-6.58,146.71],"nice":false,"zero":false}},
"y":{"field":"k","type":"quantitative","title":null,"scale":{"domain":[113.71,127.43],"nice":false,"zero":false}}}},
{"data":{"name":"ichi"},"mark":{"type":"line","color":"#4aa3f0","strokeWidth":1},
"encoding":{
"x":{"field":"i","type":"quantitative","title":null,"scale":{"domain":[-6.58,146.71],"nice":false,"zero":false}},
"y":{"field":"t","type":"quantitative","title":null,"scale":{"domain":[113.71,127.43],"nice":false,"zero":false}}}},
{"data":{"name":"hl"},"transform":[{"filter":"datum.g == 's'"}],"mark":{"type":"rule","color":"#5b8a3c","strokeWidth":1.3},
"encoding":{
"x":{"field":"i0","type":"quantitative","title":null,"scale":{"domain":[-6.58,146.71],"nice":false,"zero":false}},
"x2":{"field":"i1"},
"y":{"field":"p","type":"quantitative","title":null,"scale":{"domain":[113.71,127.43],"nice":false,"zero":false}}}},
{"data":{"name":"hl"},"transform":[{"filter":"datum.g == 'd'"}],"mark":{"type":"rule","color":"#3a3a3a","strokeWidth":1,"strokeDash":[4,3]},
"encoding":{
"x":{"field":"i0","type":"quantitative","title":null,"scale":{"domain":[-6.58,146.71],"nice":false,"zero":false}},
"x2":{"field":"i1"},
"y":{"field":"p","type":"quantitative","title":null,"scale":{"domain":[113.71,127.43],"nice":false,"zero":false}}}},
{"data":{"name":"pj"},"transform":[{"filter":"datum.g == 'r'"}],"mark":{"type":"line","color":"#e53935","strokeWidth":1.2,"strokeDash":[3,2]},
"encoding":{
"x":{"field":"i","type":"quantitative","title":null,"scale":{"domain":[-6.58,146.71],"nice":false,"zero":false}},
"y":{"field":"p","type":"quantitative","title":null,"scale":{"domain":[113.71,127.43],"nice":false,"zero":false}},
"order":{"field":"k"}}},
{"data":{"name":"pj"},"transform":[{"filter":"datum.g == 'g'"}],"mark":{"type":"line","color":"#6aa84f","strokeWidth":1.2,"strokeDash":[3,2]},
"encoding":{
"x":{"field":"i","type":"quantitative","title":null,"scale":{"domain":[-6.58,146.71],"nice":false,"zero":false}},
"y":{"field":"p","type":"quantitative","title":null,"scale":{"domain":[113.71,127.43],"nice":false,"zero":false}},
"order":{"field":"k"}}},
{"data":{"name":"txt"},"transform":[{"filter":"datum.g == 'h'"}],"mark":{"type":"text","fontSize":5.8,"fontWeight":"bold","color":"#2a2e39","align":"left","baseline":"middle"},
"encoding":{
"x":{"field":"i","type":"quantitative","title":null,"scale":{"domain":[-6.58,146.71],"nice":false,"zero":false}},
"y":{"field":"p","type":"quantitative","title":null,"scale":{"domain":[113.71,127.43],"nice":false,"zero":false}},
"text":{"field":"t"}}},
{"data":{"name":"txt"},"transform":[{"filter":"datum.g == 's'"}],"mark":{"type":"text","fontSize":5.8,"color":"#5d606b","align":"left","baseline":"middle"},
"encoding":{
"x":{"field":"i","type":"quantitative","title":null,"scale":{"domain":[-6.58,146.71],"nice":false,"zero":false}},
"y":{"field":"p","type":"quantitative","title":null,"scale":{"domain":[113.71,127.43],"nice":false,"zero":false}},
"text":{"field":"t"}}},
{"data":{"name":"txt"},"transform":[{"filter":"datum.g == 'r'"}],"mark":{"type":"text","fontSize":12,"fontWeight":"bold","color":"#ee4646","align":"center","baseline":"middle"},
"encoding":{
"x":{"field":"i","type":"quantitative","title":null,"scale":{"domain":[-6.58,146.71],"nice":false,"zero":false}},
"y":{"field":"p","type":"quantitative","title":null,"scale":{"domain":[113.71,127.43],"nice":false,"zero":false}},
"text":{"field":"t"}}},
{"data":{"name":"txt"},"transform":[{"filter":"datum.g == 'gr'"}],"mark":{"type":"text","fontSize":12,"fontWeight":"bold","color":"#5f9e48","align":"center","baseline":"middle"},
"encoding":{
"x":{"field":"i","type":"quantitative","title":null,"scale":{"domain":[-6.58,146.71],"nice":false,"zero":false}},
"y":{"field":"p","type":"quantitative","title":null,"scale":{"domain":[113.71,127.43],"nice":false,"zero":false}},
"text":{"field":"t"}}},
{"data":{"name":"txt"},"transform":[{"filter":"datum.g == 'gr2'"}],"mark":{"type":"text","fontSize":11,"fontWeight":"bold","color":"#5f9e48","align":"center","baseline":"middle"},
"encoding":{
"x":{"field":"i","type":"quantitative","title":null,"scale":{"domain":[-6.58,146.71],"nice":false,"zero":false}},
"y":{"field":"p","type":"quantitative","title":null,"scale":{"domain":[113.71,127.43],"nice":false,"zero":false}},
"text":{"field":"t"}}},
{"data":{"name":"txt"},"transform":[{"filter":"datum.g == 'a'"}],"mark":{"type":"text","fontSize":6.8,"color":"#6b7386","align":"left","baseline":"middle"},
"encoding":{
"x":{"field":"i","type":"quantitative","title":null,"scale":{"domain":[-6.58,146.71],"nice":false,"zero":false}},
"y":{"field":"p","type":"quantitative","title":null,"scale":{"domain":[113.71,127.43],"nice":false,"zero":false}},
"text":{"field":"t"}}},
{"data":{"name":"txt"},"transform":[{"filter":"datum.g == 'b'"}],"mark":{"type":"text","fontSize":8,"fontWeight":"bold","color":"#505050","align":"center","baseline":"middle"},
"encoding":{
"x":{"field":"i","type":"quantitative","title":null,"scale":{"domain":[-6.58,146.71],"nice":false,"zero":false}},
"y":{"field":"p","type":"quantitative","title":null,"scale":{"domain":[113.71,127.43],"nice":false,"zero":false}},
"text":{"field":"t"}}},
{"data":{"name":"yl"},"mark":{"type":"text","fontSize":5.6,"color":"#50535e","align":"left","baseline":"middle"},
"encoding":{
"x":{"field":"i","type":"quantitative","title":null,"scale":{"domain":[-6.58,146.71],"nice":false,"zero":false}},
"y":{"field":"p","type":"quantitative","title":null,"scale":{"domain":[113.71,127.43],"nice":false,"zero":false}},
"text":{"field":"p","type":"quantitative","format":".3f"}}},
{"data":{"name":"tag"},"mark":{"type":"rect","color":"#ef5350"},
"encoding":{
"x":{"field":"i0","type":"quantitative","title":null,"scale":{"domain":[-6.58,146.71],"nice":false,"zero":false}},
"x2":{"field":"i1"},
"y":{"field":"p0","type":"quantitative","title":null,"scale":{"domain":[113.71,127.43],"nice":false,"zero":false}},
"y2":{"field":"p1"}}},
{"data":{"name":"txt"},"transform":[{"filter":"datum.g == 'pt'"}],"mark":{"type":"text","fontSize":5.6,"color":"#ffffff","align":"center","baseline":"middle"},
"encoding":{
"x":{"field":"i","type":"quantitative","title":null,"scale":{"domain":[-6.58,146.71],"nice":false,"zero":false}},
"y":{"field":"p","type":"quantitative","title":null,"scale":{"domain":[113.71,127.43],"nice":false,"zero":false}},
"text":{"field":"t"}}}
]},
{"width":699,"height":56,
"layer":[
{"data":{"name":"adx"},"mark":{"type":"line","strokeWidth":0.9},
"encoding":{
"x":{"field":"i","type":"quantitative","title":null,"scale":{"domain":[-6.58,146.71],"nice":false,"zero":false},"axis":{"orient":"bottom","values":[0,10,22,30,44,55,65,75,87,95,110,120,131,140],"labelExpr":"datum.value==0?'Mar':datum.value==10?'16':datum.value==22?'Apr':datum.value==30?'13':datum.value==44?'May':datum.value==55?'18':datum.value==65?'Jun':datum.value==75?'15':datum.value==87?'Jul':datum.value==95?'13':datum.value==110?'Aug':datum.value==120?'17':datum.value==131?'Sep':'14'","labelFontSize":5.8,"ticks":false,"labelPadding":5,"labelOverlap":false,"grid":true,"domain":true,"title":null}},
"y":{"field":"v","type":"quantitative","title":null,"scale":{"domain":[5.59,49.69],"nice":false,"zero":false},"axis":{"orient":"right","values":[20,40],"format":".3f","labelFontSize":5.6,"tickSize":3,"labelPadding":2,"labelOverlap":false,"grid":true,"domain":true,"title":null}},
"color":{"field":"s","type":"nominal","scale":{"domain":["ADX","DI+","DI-"],"range":["#6f6fe6","#6cb35e","#f06c6c"]},"legend":null}}},
{"data":{"name":"vl"},"mark":{"type":"rule","color":"#4a5cf0","strokeWidth":1,"strokeDash":[2,2]},
"encoding":{
"x":{"field":"i","type":"quantitative","title":null,"scale":{"domain":[-6.58,146.71],"nice":false,"zero":false}},
"y":{"field":"v0","type":"quantitative","title":null,"scale":{"domain":[5.59,49.69],"nice":false,"zero":false}},
"y2":{"field":"v1"}}},
{"data":{"name":"arr"},"mark":{"type":"line","color":"#111111","strokeWidth":1},
"encoding":{
"x":{"field":"i","type":"quantitative","title":null,"scale":{"domain":[-6.58,146.71],"nice":false,"zero":false}},
"y":{"field":"v","type":"quantitative","title":null,"scale":{"domain":[5.59,49.69],"nice":false,"zero":false}},
"detail":{"field":"g"},"order":{"field":"k"}}},
{"data":{"name":"atx"},"transform":[{"filter":"datum.g == 'n'"}],"mark":{"type":"text","fontSize":5.8,"color":"#5d606b","align":"left","baseline":"middle"},
"encoding":{
"x":{"field":"i","type":"quantitative","title":null,"scale":{"domain":[-6.58,146.71],"nice":false,"zero":false}},
"y":{"field":"v","type":"quantitative","title":null,"scale":{"domain":[5.59,49.69],"nice":false,"zero":false}},
"text":{"field":"t"}}},
{"data":{"name":"atx"},"transform":[{"filter":"datum.g == 'a'"}],"mark":{"type":"text","fontSize":6.6,"color":"#6b7386","align":"left","baseline":"middle"},
"encoding":{
"x":{"field":"i","type":"quantitative","title":null,"scale":{"domain":[-6.58,146.71],"nice":false,"zero":false}},
"y":{"field":"v","type":"quantitative","title":null,"scale":{"domain":[5.59,49.69],"nice":false,"zero":false}},
"text":{"field":"t"}}},
{"data":{"name":"box"},"mark":{"type":"rect","color":"#1f3fd9"},
"encoding":{
"x":{"field":"i0","type":"quantitative","title":null,"scale":{"domain":[-6.58,146.71],"nice":false,"zero":false}},
"x2":{"field":"i1"},
"y":{"field":"v0","type":"quantitative","title":null,"scale":{"domain":[5.59,49.69],"nice":false,"zero":false}},
"y2":{"field":"v1"}}},
{"data":{"name":"atx"},"transform":[{"filter":"datum.g == 'd'"}],"mark":{"type":"text","fontSize":5.8,"color":"#ffffff","align":"center","baseline":"middle"},
"encoding":{
"x":{"field":"i","type":"quantitative","title":null,"scale":{"domain":[-6.58,146.71],"nice":false,"zero":false}},
"y":{"field":"v","type":"quantitative","title":null,"scale":{"domain":[5.59,49.69],"nice":false,"zero":false}},
"text":{"field":"t"}}}
]}
]
}
